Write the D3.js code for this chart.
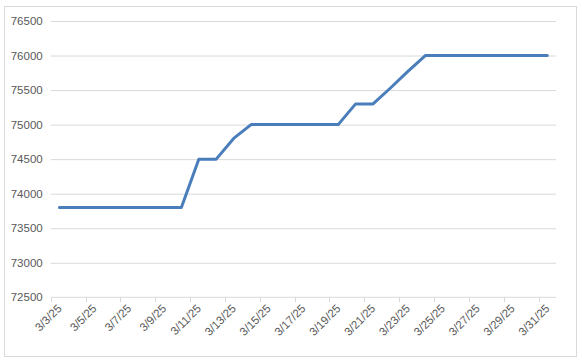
<!DOCTYPE html>
<html>
<head>
<meta charset="utf-8">
<script src="https://cdn.jsdelivr.net/npm/d3@7"></script>
<style>
  body { margin: 0; background: #fff; }
  text { font-family: "Liberation Sans", Arial, sans-serif; fill: #595959; }
</style>
</head>
<body>
<svg id="chart"></svg>
<script>
const WIDTH = 583;
const HEIGHT = 362;

// one value per calendar day, 3/3/25 .. 3/31/25
const dates = d3.range(3, 32).map((d) => `3/${d}/25`);
const prices = [
  73800, 73800, 73800, 73800, 73800, 73800, 73800, 73800,
  74500, 74500, 74800, 75000, 75000, 75000, 75000, 75000, 75000,
  75300, 75300, 75530, 75770, 76000,
  76000, 76000, 76000, 76000, 76000, 76000, 76000,
];
const yTicks = [72500, 73000, 73500, 74000, 74500, 75000, 75500, 76000, 76500];
const labelDates = dates.filter((d, i) => i % 2 === 0);

const plot = { left: 50.7, right: 556, top: 21, bottom: 297.3 };

const svg = d3.select("#chart").attr("width", WIDTH).attr("height", HEIGHT);

svg
  .append("rect")
  .attr("x", 4.5)
  .attr("y", 6.5)
  .attr("width", 572)
  .attr("height", 350)
  .attr("fill", "#fff")
  .attr("stroke", "#d9d9d9");

const x = d3.scaleBand().domain(dates).range([plot.left, plot.right]);
const y = d3.scaleLinear().domain([72500, 76500]).range([plot.bottom, plot.top]);

// gridlines + y labels
const yAxis = svg
  .append("g")
  .attr("transform", `translate(${plot.left},0)`)
  .call(
    d3
      .axisLeft(y)
      .tickValues(yTicks)
      .tickFormat(d3.format("d"))
      .tickSize(-(plot.right - plot.left))
      .tickPadding(8)
  );
yAxis.select(".domain").remove();
yAxis.selectAll(".tick line").attr("stroke", "#d9d9d9");
yAxis
  .selectAll(".tick text")
  .attr("font-size", "11.5px")
  .attr("font-family", "Liberation Sans, Arial, sans-serif")
  .attr("fill", "#595959");
yAxis.selectAll(".tick").filter((d) => d === 72500).select("line").remove();

// x axis
const xg = svg.append("g");
xg.append("line")
  .attr("x1", plot.left)
  .attr("x2", plot.right)
  .attr("y1", plot.bottom)
  .attr("y2", plot.bottom)
  .attr("stroke", "#d9d9d9");
xg.selectAll(".xtick")
  .data(labelDates)
  .join("line")
  .attr("x1", (d) => Math.round(x(d)) + 0.5)
  .attr("x2", (d) => Math.round(x(d)) + 0.5)
  .attr("y1", plot.bottom)
  .attr("y2", plot.bottom + 5)
  .attr("stroke", "#d9d9d9");
xg.selectAll(".xlabel")
  .data(labelDates)
  .join("text")
  .attr("font-size", "11.5px")
  .attr("text-anchor", "end")
  .attr(
    "transform",
    (d) => `translate(${x(d) + x.bandwidth() / 2 + 3},${plot.bottom + 12}) rotate(-45)`
  )
  .text((d) => d);

// price line
const line = d3
  .line()
  .x((d, i) => x(dates[i]) + x.bandwidth() / 2)
  .y((d) => y(d));

svg
  .append("path")
  .datum(prices)
  .attr("fill", "none")
  .attr("stroke", "#4a7ebb")
  .attr("stroke-width", 3)
  .attr("stroke-linejoin", "round")
  .attr("stroke-linecap", "round")
  .attr("d", line);
</script>
</body>
</html>
